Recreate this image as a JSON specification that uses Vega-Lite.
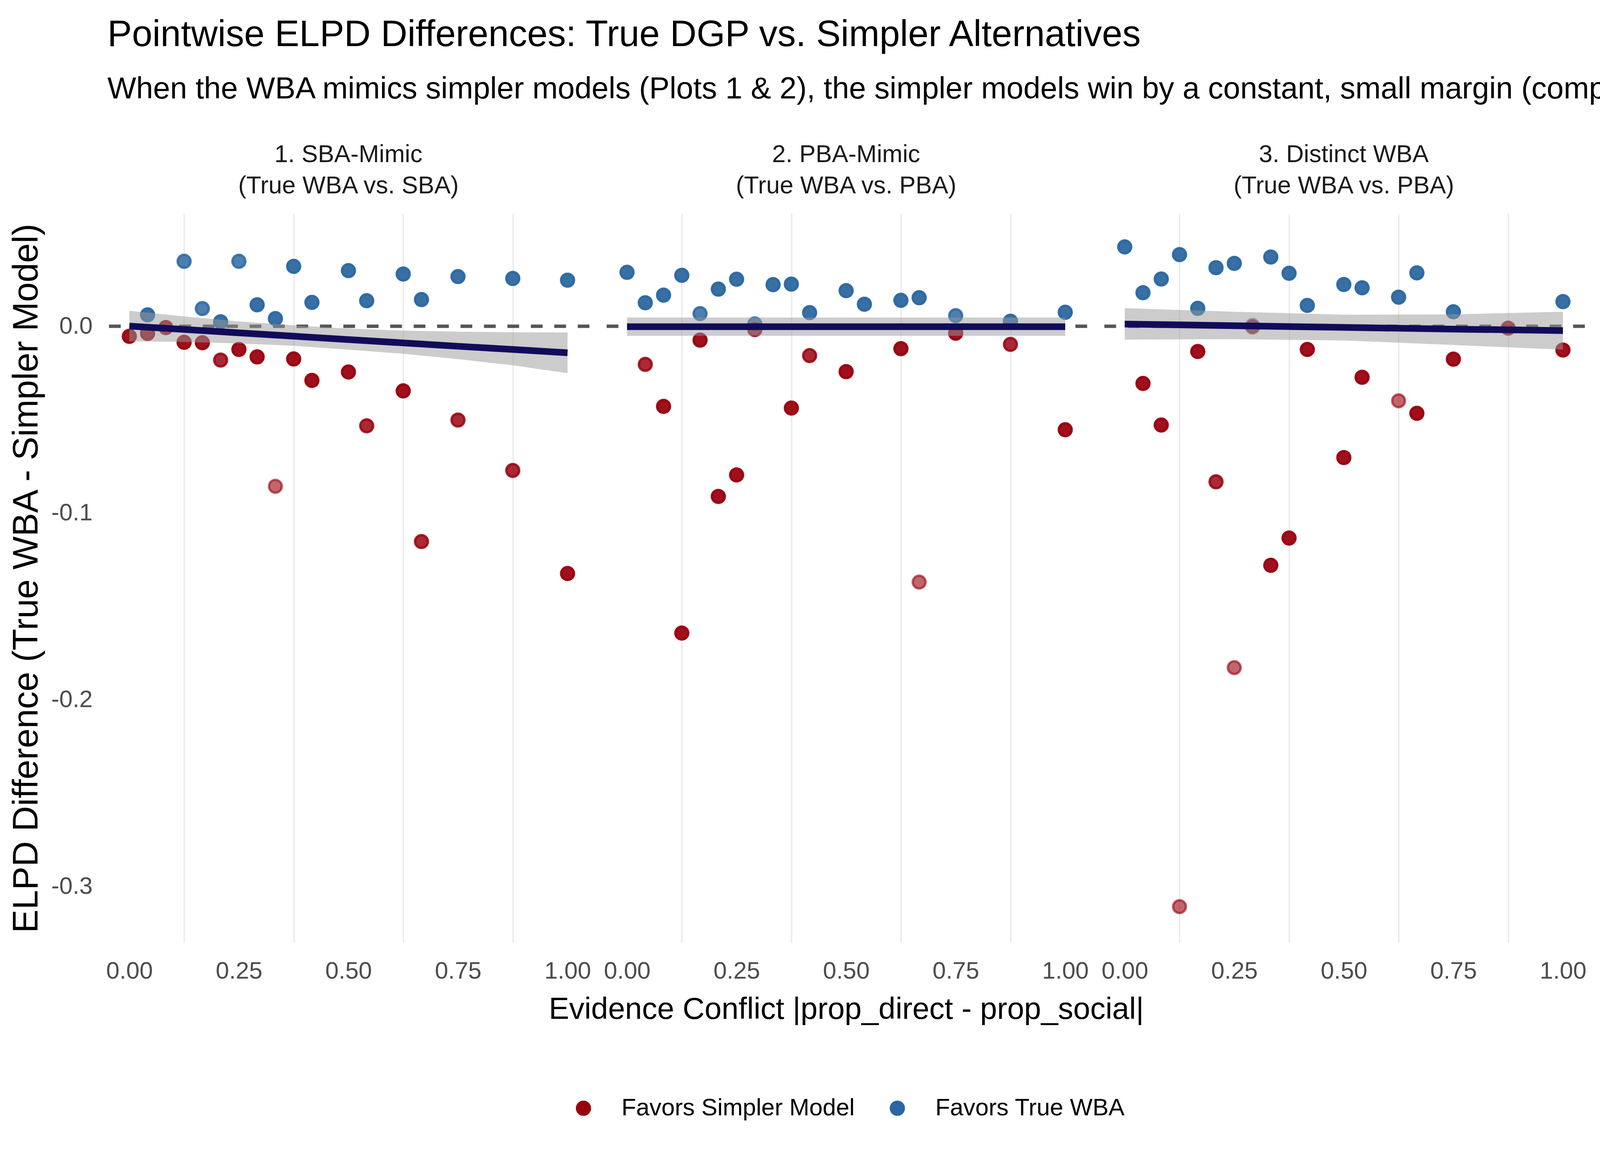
{
  "$schema": "https://vega.github.io/schema/vega-lite/v6.json",
  "padding": {"left": 23, "top": 43, "right": 0, "bottom": 0},
  "background": "white",
  "config": {
    "font": "Liberation Sans",
    "view": {"stroke": null},
    "axis": {"domain": false, "ticks": false, "tickSize": 0, "labelFont": "Liberation Sans", "labelFontSize": 61.4, "labelColor": "#4D4D4D", "titleFont": "Liberation Sans", "titleFontSize": 78, "titleColor": "#000000", "titleFontWeight": "normal", "gridColor": "#EBEBEB", "gridWidth": 7.25, "labelOverlap": false, "labelFlush": false},
    "title": {"font": "Liberation Sans", "fontWeight": "normal", "fontSize": 62.6, "color": "#1A1A1A", "anchor": "middle", "offset": 38, "lineHeight": 80, "frame": "group"}
  },
  "title": {
    "text": "Pointwise ELPD Differences: True DGP vs. Simpler Alternatives",
    "subtitle": "When the WBA mimics simpler models (Plots 1 & 2), the simpler models win by a constant, small margin (comp",
    "anchor": "start", "frame": "group", "fontSize": 94, "subtitleFontSize": 78, "color": "#000000", "subtitleColor": "#000000", "subtitleFont": "Liberation Sans", "subtitlePadding": 52, "offset": 96.2, "lineHeight": 94
  },
  "datasets": {
    "points": [
      {"panel": 1, "conflict": 0.041667, "elpd_diff": 0.0061, "favors": "Favors True WBA", "n": 3},
      {"panel": 1, "conflict": 0.125, "elpd_diff": 0.0348, "favors": "Favors True WBA", "n": 2},
      {"panel": 1, "conflict": 0.166667, "elpd_diff": 0.0095, "favors": "Favors True WBA", "n": 2},
      {"panel": 1, "conflict": 0.208333, "elpd_diff": 0.0024, "favors": "Favors True WBA", "n": 3},
      {"panel": 1, "conflict": 0.25, "elpd_diff": 0.0348, "favors": "Favors True WBA", "n": 2},
      {"panel": 1, "conflict": 0.291667, "elpd_diff": 0.0115, "favors": "Favors True WBA", "n": 3},
      {"panel": 1, "conflict": 0.333333, "elpd_diff": 0.0041, "favors": "Favors True WBA", "n": 3},
      {"panel": 1, "conflict": 0.375, "elpd_diff": 0.0321, "favors": "Favors True WBA", "n": 3},
      {"panel": 1, "conflict": 0.416667, "elpd_diff": 0.0128, "favors": "Favors True WBA", "n": 3},
      {"panel": 1, "conflict": 0.5, "elpd_diff": 0.0298, "favors": "Favors True WBA", "n": 3},
      {"panel": 1, "conflict": 0.541667, "elpd_diff": 0.0137, "favors": "Favors True WBA", "n": 3},
      {"panel": 1, "conflict": 0.625, "elpd_diff": 0.0280, "favors": "Favors True WBA", "n": 3},
      {"panel": 1, "conflict": 0.666667, "elpd_diff": 0.0143, "favors": "Favors True WBA", "n": 3},
      {"panel": 1, "conflict": 0.75, "elpd_diff": 0.0266, "favors": "Favors True WBA", "n": 3},
      {"panel": 1, "conflict": 0.875, "elpd_diff": 0.0256, "favors": "Favors True WBA", "n": 3},
      {"panel": 1, "conflict": 1, "elpd_diff": 0.0247, "favors": "Favors True WBA", "n": 3},
      {"panel": 1, "conflict": 0, "elpd_diff": -0.0054, "favors": "Favors Simpler Model", "n": 3},
      {"panel": 1, "conflict": 0.041667, "elpd_diff": -0.0038, "favors": "Favors Simpler Model", "n": 3},
      {"panel": 1, "conflict": 0.083333, "elpd_diff": -0.0007, "favors": "Favors Simpler Model", "n": 3},
      {"panel": 1, "conflict": 0.125, "elpd_diff": -0.0086, "favors": "Favors Simpler Model", "n": 3},
      {"panel": 1, "conflict": 0.166667, "elpd_diff": -0.0088, "favors": "Favors Simpler Model", "n": 3},
      {"panel": 1, "conflict": 0.208333, "elpd_diff": -0.0181, "favors": "Favors Simpler Model", "n": 2},
      {"panel": 1, "conflict": 0.25, "elpd_diff": -0.0124, "favors": "Favors Simpler Model", "n": 3},
      {"panel": 1, "conflict": 0.291667, "elpd_diff": -0.0164, "favors": "Favors Simpler Model", "n": 3},
      {"panel": 1, "conflict": 0.333333, "elpd_diff": -0.0857, "favors": "Favors Simpler Model", "n": 1},
      {"panel": 1, "conflict": 0.375, "elpd_diff": -0.0175, "favors": "Favors Simpler Model", "n": 3},
      {"panel": 1, "conflict": 0.416667, "elpd_diff": -0.0290, "favors": "Favors Simpler Model", "n": 3},
      {"panel": 1, "conflict": 0.5, "elpd_diff": -0.0245, "favors": "Favors Simpler Model", "n": 3},
      {"panel": 1, "conflict": 0.541667, "elpd_diff": -0.0533, "favors": "Favors Simpler Model", "n": 2},
      {"panel": 1, "conflict": 0.625, "elpd_diff": -0.0346, "favors": "Favors Simpler Model", "n": 3},
      {"panel": 1, "conflict": 0.666667, "elpd_diff": -0.1153, "favors": "Favors Simpler Model", "n": 2},
      {"panel": 1, "conflict": 0.75, "elpd_diff": -0.0502, "favors": "Favors Simpler Model", "n": 2},
      {"panel": 1, "conflict": 0.875, "elpd_diff": -0.0772, "favors": "Favors Simpler Model", "n": 2},
      {"panel": 1, "conflict": 1, "elpd_diff": -0.1324, "favors": "Favors Simpler Model", "n": 3},
      {"panel": 2, "conflict": 0, "elpd_diff": 0.0289, "favors": "Favors True WBA", "n": 3},
      {"panel": 2, "conflict": 0.041667, "elpd_diff": 0.0126, "favors": "Favors True WBA", "n": 3},
      {"panel": 2, "conflict": 0.083333, "elpd_diff": 0.0167, "favors": "Favors True WBA", "n": 3},
      {"panel": 2, "conflict": 0.125, "elpd_diff": 0.0273, "favors": "Favors True WBA", "n": 3},
      {"panel": 2, "conflict": 0.166667, "elpd_diff": 0.0068, "favors": "Favors True WBA", "n": 2},
      {"panel": 2, "conflict": 0.208333, "elpd_diff": 0.0199, "favors": "Favors True WBA", "n": 3},
      {"panel": 2, "conflict": 0.25, "elpd_diff": 0.0252, "favors": "Favors True WBA", "n": 3},
      {"panel": 2, "conflict": 0.291667, "elpd_diff": 0.0013, "favors": "Favors True WBA", "n": 2},
      {"panel": 2, "conflict": 0.333333, "elpd_diff": 0.0223, "favors": "Favors True WBA", "n": 3},
      {"panel": 2, "conflict": 0.375, "elpd_diff": 0.0226, "favors": "Favors True WBA", "n": 3},
      {"panel": 2, "conflict": 0.416667, "elpd_diff": 0.0073, "favors": "Favors True WBA", "n": 3},
      {"panel": 2, "conflict": 0.5, "elpd_diff": 0.0191, "favors": "Favors True WBA", "n": 3},
      {"panel": 2, "conflict": 0.541667, "elpd_diff": 0.0118, "favors": "Favors True WBA", "n": 3},
      {"panel": 2, "conflict": 0.625, "elpd_diff": 0.0139, "favors": "Favors True WBA", "n": 3},
      {"panel": 2, "conflict": 0.666667, "elpd_diff": 0.0153, "favors": "Favors True WBA", "n": 3},
      {"panel": 2, "conflict": 0.75, "elpd_diff": 0.0057, "favors": "Favors True WBA", "n": 2},
      {"panel": 2, "conflict": 0.875, "elpd_diff": 0.0027, "favors": "Favors True WBA", "n": 3},
      {"panel": 2, "conflict": 1, "elpd_diff": 0.0075, "favors": "Favors True WBA", "n": 3},
      {"panel": 2, "conflict": 0.041667, "elpd_diff": -0.0204, "favors": "Favors Simpler Model", "n": 2},
      {"panel": 2, "conflict": 0.083333, "elpd_diff": -0.0429, "favors": "Favors Simpler Model", "n": 3},
      {"panel": 2, "conflict": 0.125, "elpd_diff": -0.1643, "favors": "Favors Simpler Model", "n": 3},
      {"panel": 2, "conflict": 0.166667, "elpd_diff": -0.0074, "favors": "Favors Simpler Model", "n": 3},
      {"panel": 2, "conflict": 0.208333, "elpd_diff": -0.0911, "favors": "Favors Simpler Model", "n": 3},
      {"panel": 2, "conflict": 0.25, "elpd_diff": -0.0796, "favors": "Favors Simpler Model", "n": 3},
      {"panel": 2, "conflict": 0.291667, "elpd_diff": -0.0018, "favors": "Favors Simpler Model", "n": 2},
      {"panel": 2, "conflict": 0.375, "elpd_diff": -0.0438, "favors": "Favors Simpler Model", "n": 3},
      {"panel": 2, "conflict": 0.416667, "elpd_diff": -0.0157, "favors": "Favors Simpler Model", "n": 2},
      {"panel": 2, "conflict": 0.5, "elpd_diff": -0.0243, "favors": "Favors Simpler Model", "n": 3},
      {"panel": 2, "conflict": 0.625, "elpd_diff": -0.0120, "favors": "Favors Simpler Model", "n": 3},
      {"panel": 2, "conflict": 0.666667, "elpd_diff": -0.1370, "favors": "Favors Simpler Model", "n": 1},
      {"panel": 2, "conflict": 0.75, "elpd_diff": -0.0037, "favors": "Favors Simpler Model", "n": 3},
      {"panel": 2, "conflict": 0.875, "elpd_diff": -0.0097, "favors": "Favors Simpler Model", "n": 2},
      {"panel": 2, "conflict": 1, "elpd_diff": -0.0554, "favors": "Favors Simpler Model", "n": 3},
      {"panel": 3, "conflict": 0, "elpd_diff": 0.0425, "favors": "Favors True WBA", "n": 3},
      {"panel": 3, "conflict": 0.041667, "elpd_diff": 0.0180, "favors": "Favors True WBA", "n": 3},
      {"panel": 3, "conflict": 0.083333, "elpd_diff": 0.0253, "favors": "Favors True WBA", "n": 3},
      {"panel": 3, "conflict": 0.125, "elpd_diff": 0.0384, "favors": "Favors True WBA", "n": 3},
      {"panel": 3, "conflict": 0.166667, "elpd_diff": 0.0096, "favors": "Favors True WBA", "n": 3},
      {"panel": 3, "conflict": 0.208333, "elpd_diff": 0.0314, "favors": "Favors True WBA", "n": 3},
      {"panel": 3, "conflict": 0.25, "elpd_diff": 0.0337, "favors": "Favors True WBA", "n": 3},
      {"panel": 3, "conflict": 0.291667, "elpd_diff": 0.0004, "favors": "Favors True WBA", "n": 1},
      {"panel": 3, "conflict": 0.333333, "elpd_diff": 0.0371, "favors": "Favors True WBA", "n": 3},
      {"panel": 3, "conflict": 0.375, "elpd_diff": 0.0284, "favors": "Favors True WBA", "n": 3},
      {"panel": 3, "conflict": 0.416667, "elpd_diff": 0.0112, "favors": "Favors True WBA", "n": 3},
      {"panel": 3, "conflict": 0.5, "elpd_diff": 0.0224, "favors": "Favors True WBA", "n": 3},
      {"panel": 3, "conflict": 0.541667, "elpd_diff": 0.0206, "favors": "Favors True WBA", "n": 3},
      {"panel": 3, "conflict": 0.625, "elpd_diff": 0.0156, "favors": "Favors True WBA", "n": 3},
      {"panel": 3, "conflict": 0.666667, "elpd_diff": 0.0286, "favors": "Favors True WBA", "n": 3},
      {"panel": 3, "conflict": 0.75, "elpd_diff": 0.0078, "favors": "Favors True WBA", "n": 3},
      {"panel": 3, "conflict": 1, "elpd_diff": 0.0132, "favors": "Favors True WBA", "n": 3},
      {"panel": 3, "conflict": 0.041667, "elpd_diff": -0.0306, "favors": "Favors Simpler Model", "n": 3},
      {"panel": 3, "conflict": 0.083333, "elpd_diff": -0.0529, "favors": "Favors Simpler Model", "n": 3},
      {"panel": 3, "conflict": 0.125, "elpd_diff": -0.3108, "favors": "Favors Simpler Model", "n": 1},
      {"panel": 3, "conflict": 0.166667, "elpd_diff": -0.0135, "favors": "Favors Simpler Model", "n": 3},
      {"panel": 3, "conflict": 0.208333, "elpd_diff": -0.0833, "favors": "Favors Simpler Model", "n": 2},
      {"panel": 3, "conflict": 0.25, "elpd_diff": -0.1828, "favors": "Favors Simpler Model", "n": 1},
      {"panel": 3, "conflict": 0.291667, "elpd_diff": -0.0004, "favors": "Favors Simpler Model", "n": 1},
      {"panel": 3, "conflict": 0.333333, "elpd_diff": -0.1280, "favors": "Favors Simpler Model", "n": 3},
      {"panel": 3, "conflict": 0.375, "elpd_diff": -0.1134, "favors": "Favors Simpler Model", "n": 3},
      {"panel": 3, "conflict": 0.416667, "elpd_diff": -0.0124, "favors": "Favors Simpler Model", "n": 3},
      {"panel": 3, "conflict": 0.5, "elpd_diff": -0.0703, "favors": "Favors Simpler Model", "n": 3},
      {"panel": 3, "conflict": 0.541667, "elpd_diff": -0.0273, "favors": "Favors Simpler Model", "n": 3},
      {"panel": 3, "conflict": 0.625, "elpd_diff": -0.0399, "favors": "Favors Simpler Model", "n": 1},
      {"panel": 3, "conflict": 0.666667, "elpd_diff": -0.0466, "favors": "Favors Simpler Model", "n": 3},
      {"panel": 3, "conflict": 0.75, "elpd_diff": -0.0176, "favors": "Favors Simpler Model", "n": 3},
      {"panel": 3, "conflict": 0.875, "elpd_diff": -0.0010, "favors": "Favors Simpler Model", "n": 2},
      {"panel": 3, "conflict": 1, "elpd_diff": -0.0127, "favors": "Favors Simpler Model", "n": 3}
    ],
    "smooth": [
      {"panel": 1, "conflict": 0, "fit": 0.0001, "lo": -0.0080, "hi": 0.0083},
      {"panel": 1, "conflict": 0.125, "fit": -0.0017, "lo": -0.0084, "hi": 0.0053},
      {"panel": 1, "conflict": 0.25, "fit": -0.0035, "lo": -0.0092, "hi": 0.0026},
      {"panel": 1, "conflict": 0.375, "fit": -0.0053, "lo": -0.0104, "hi": 0.0005},
      {"panel": 1, "conflict": 0.5, "fit": -0.0071, "lo": -0.0125, "hi": -0.0012},
      {"panel": 1, "conflict": 0.625, "fit": -0.0089, "lo": -0.0147, "hi": -0.0023},
      {"panel": 1, "conflict": 0.75, "fit": -0.0107, "lo": -0.0176, "hi": -0.0029},
      {"panel": 1, "conflict": 0.875, "fit": -0.0124, "lo": -0.0209, "hi": -0.0032},
      {"panel": 1, "conflict": 1, "fit": -0.0142, "lo": -0.0251, "hi": -0.0033},
      {"panel": 2, "conflict": 0, "fit": -0.0002, "lo": -0.0051, "hi": 0.0047},
      {"panel": 2, "conflict": 0.5, "fit": -0.0002, "lo": -0.0051, "hi": 0.0047},
      {"panel": 2, "conflict": 1, "fit": -0.0002, "lo": -0.0051, "hi": 0.0047},
      {"panel": 3, "conflict": 0, "fit": 0.0012, "lo": -0.0071, "hi": 0.0097},
      {"panel": 3, "conflict": 0.25, "fit": 0.0003, "lo": -0.0069, "hi": 0.0078},
      {"panel": 3, "conflict": 0.5, "fit": -0.0006, "lo": -0.0076, "hi": 0.0062},
      {"panel": 3, "conflict": 0.75, "fit": -0.0015, "lo": -0.0100, "hi": 0.0064},
      {"panel": 3, "conflict": 1, "fit": -0.0023, "lo": -0.0125, "hi": 0.0078}
    ]
  },
  "spacing": 40.1,
  "bounds": "flush",
  "hconcat": [
    {
      "width": 1234, "height": 1866,
      "title": {"text": ["1. SBA-Mimic", "(True WBA vs. SBA)"]},
      "resolve": {"axis": {"x": "independent", "y": "independent"}},
      "layer": [
        {
          "data": {"values": [{"yint": 0}]},
          "mark": {"type": "rule", "color": "#555555", "strokeWidth": 8.7, "strokeDash": [30, 30]},
          "encoding": {"y": {"field": "yint", "type": "quantitative", "scale": {"domain": [-0.3301, 0.0603], "nice": false, "zero": false}, "axis": null}}
        },
        {
          "data": {"name": "points"},
          "transform": [{"filter": "datum.panel == 1"}],
          "mark": {"type": "point", "filled": true, "shape": "circle", "size": 1090, "strokeWidth": 6, "opacity": 1},
          "encoding": {
            "x": {"field": "conflict", "type": "quantitative", "scale": {"domain": [-0.05, 1.05], "nice": false, "zero": false}, "axis": {"values": [0.125, 0.375, 0.625, 0.875], "labels": false, "title": null, "gridWidth": 3.67, "orient": "bottom"}},
            "y": {"field": "elpd_diff", "type": "quantitative", "scale": {"domain": [-0.3301, 0.0603], "nice": false, "zero": false}, "axis": {"values": [-0.25, -0.15, -0.05, 0.05], "labels": false, "title": null, "gridWidth": 4.3, "orient": "left"}},
            "color": {"field": "favors", "type": "nominal", "scale": {"domain": ["Favors Simpler Model", "Favors True WBA"], "range": ["#99000D", "#2B66A0"]}, "legend": {"orient": "none", "legendX": 1188, "legendY": 2258.7, "direction": "horizontal", "title": null, "labelFontSize": 61.4, "labelColor": "#000000", "labelFont": "Liberation Sans", "symbolSize": 1090, "symbolStrokeWidth": 6, "symbolType": "circle", "labelOffset": 66.5, "columnPadding": 78.5, "padding": 0, "labelLimit": 3000, "encoding": {"symbols": {"update": {"fillOpacity": {"value": 0.6}, "strokeOpacity": {"value": 0.6}, "opacity": {"value": 1}}}}}},
            "stroke": {"field": "favors", "type": "nominal", "scale": {"domain": ["Favors Simpler Model", "Favors True WBA"], "range": ["#99000D", "#2B66A0"]}, "legend": {"orient": "none", "legendX": 1188, "legendY": 2258.7, "direction": "horizontal", "title": null, "labelFontSize": 61.4, "labelColor": "#000000", "labelFont": "Liberation Sans", "symbolSize": 1090, "symbolStrokeWidth": 6, "symbolType": "circle", "labelOffset": 66.5, "columnPadding": 78.5, "padding": 0, "labelLimit": 3000, "encoding": {"symbols": {"update": {"fillOpacity": {"value": 0.6}, "strokeOpacity": {"value": 0.6}, "opacity": {"value": 1}}}}}},
            "fillOpacity": {"field": "n", "type": "quantitative", "scale": {"type": "threshold", "domain": [1.5, 2.5], "range": [0.6, 0.84, 0.936]}, "legend": null},
            "strokeOpacity": {"field": "n", "type": "quantitative", "scale": {"type": "threshold", "domain": [1.5, 2.5], "range": [0.6, 0.84, 0.936]}, "legend": null}
          }
        },
        {
          "data": {"name": "smooth"},
          "transform": [{"filter": "datum.panel == 1"}],
          "mark": {"type": "area", "fill": "#999999", "fillOpacity": 0.5},
          "encoding": {
            "x": {"field": "conflict", "type": "quantitative", "scale": {"domain": [-0.05, 1.05], "nice": false, "zero": false}, "axis": {"values": [0, 0.25, 0.5, 0.75, 1], "format": ".2f", "title": null, "labelPadding": 42, "orient": "bottom"}},
            "y": {"field": "lo", "type": "quantitative", "scale": {"domain": [-0.3301, 0.0603], "nice": false, "zero": false}, "axis": {"values": [-0.3, -0.2, -0.1, 0], "labelExpr": "datum.value == 0 ? '0.0' : '-' + format(-datum.value, '.1f')", "title": "ELPD Difference (True WBA - Simpler Model)", "titleFontSize": 90, "labelPadding": 38.4, "titlePadding": 16.4, "gridWidth": 8.5, "orient": "left"}},
            "y2": {"field": "hi"}
          }
        },
        {
          "data": {"name": "smooth"},
          "transform": [{"filter": "datum.panel == 1"}],
          "mark": {"type": "line", "color": "#110C5A", "strokeWidth": 17, "strokeCap": "butt"},
          "encoding": {
            "x": {"field": "conflict", "type": "quantitative", "scale": {"domain": [-0.05, 1.05], "nice": false, "zero": false}, "axis": null},
            "y": {"field": "fit", "type": "quantitative", "scale": {"domain": [-0.3301, 0.0603], "nice": false, "zero": false}, "axis": null}
          }
        }
      ]
    },
    {
      "width": 1234, "height": 1866,
      "title": {"text": ["2. PBA-Mimic", "(True WBA vs. PBA)"]},
      "resolve": {"axis": {"x": "independent", "y": "independent"}},
      "layer": [
        {
          "data": {"values": [{"yint": 0}]},
          "mark": {"type": "rule", "color": "#555555", "strokeWidth": 8.7, "strokeDash": [30, 30]},
          "encoding": {"y": {"field": "yint", "type": "quantitative", "scale": {"domain": [-0.3301, 0.0603], "nice": false, "zero": false}, "axis": null}}
        },
        {
          "data": {"name": "points"},
          "transform": [{"filter": "datum.panel == 2"}],
          "mark": {"type": "point", "filled": true, "shape": "circle", "size": 1090, "strokeWidth": 6, "opacity": 1},
          "encoding": {
            "x": {"field": "conflict", "type": "quantitative", "scale": {"domain": [-0.05, 1.05], "nice": false, "zero": false}, "axis": {"values": [0.125, 0.375, 0.625, 0.875], "labels": false, "title": null, "gridWidth": 3.67, "orient": "bottom"}},
            "y": {"field": "elpd_diff", "type": "quantitative", "scale": {"domain": [-0.3301, 0.0603], "nice": false, "zero": false}, "axis": {"values": [-0.25, -0.15, -0.05, 0.05], "labels": false, "title": null, "gridWidth": 4.3, "orient": "left"}},
            "color": {"field": "favors", "type": "nominal", "scale": {"domain": ["Favors Simpler Model", "Favors True WBA"], "range": ["#99000D", "#2B66A0"]}, "legend": {"orient": "none", "legendX": 1188, "legendY": 2258.7, "direction": "horizontal", "title": null, "labelFontSize": 61.4, "labelColor": "#000000", "labelFont": "Liberation Sans", "symbolSize": 1090, "symbolStrokeWidth": 6, "symbolType": "circle", "labelOffset": 66.5, "columnPadding": 78.5, "padding": 0, "labelLimit": 3000, "encoding": {"symbols": {"update": {"fillOpacity": {"value": 0.6}, "strokeOpacity": {"value": 0.6}, "opacity": {"value": 1}}}}}},
            "stroke": {"field": "favors", "type": "nominal", "scale": {"domain": ["Favors Simpler Model", "Favors True WBA"], "range": ["#99000D", "#2B66A0"]}, "legend": {"orient": "none", "legendX": 1188, "legendY": 2258.7, "direction": "horizontal", "title": null, "labelFontSize": 61.4, "labelColor": "#000000", "labelFont": "Liberation Sans", "symbolSize": 1090, "symbolStrokeWidth": 6, "symbolType": "circle", "labelOffset": 66.5, "columnPadding": 78.5, "padding": 0, "labelLimit": 3000, "encoding": {"symbols": {"update": {"fillOpacity": {"value": 0.6}, "strokeOpacity": {"value": 0.6}, "opacity": {"value": 1}}}}}},
            "fillOpacity": {"field": "n", "type": "quantitative", "scale": {"type": "threshold", "domain": [1.5, 2.5], "range": [0.6, 0.84, 0.936]}, "legend": null},
            "strokeOpacity": {"field": "n", "type": "quantitative", "scale": {"type": "threshold", "domain": [1.5, 2.5], "range": [0.6, 0.84, 0.936]}, "legend": null}
          }
        },
        {
          "data": {"name": "smooth"},
          "transform": [{"filter": "datum.panel == 2"}],
          "mark": {"type": "area", "fill": "#999999", "fillOpacity": 0.5},
          "encoding": {
            "x": {"field": "conflict", "type": "quantitative", "scale": {"domain": [-0.05, 1.05], "nice": false, "zero": false}, "axis": {"values": [0, 0.25, 0.5, 0.75, 1], "format": ".2f", "title": "Evidence Conflict |prop_direct - prop_social|", "titleFontSize": 78, "labelPadding": 42, "titlePadding": 28.7, "orient": "bottom"}},
            "y": {"field": "lo", "type": "quantitative", "scale": {"domain": [-0.3301, 0.0603], "nice": false, "zero": false}, "axis": {"values": [-0.3, -0.2, -0.1, 0], "labels": false, "title": null, "gridWidth": 8.5, "orient": "left"}},
            "y2": {"field": "hi"}
          }
        },
        {
          "data": {"name": "smooth"},
          "transform": [{"filter": "datum.panel == 2"}],
          "mark": {"type": "line", "color": "#110C5A", "strokeWidth": 17, "strokeCap": "butt"},
          "encoding": {
            "x": {"field": "conflict", "type": "quantitative", "scale": {"domain": [-0.05, 1.05], "nice": false, "zero": false}, "axis": null},
            "y": {"field": "fit", "type": "quantitative", "scale": {"domain": [-0.3301, 0.0603], "nice": false, "zero": false}, "axis": null}
          }
        }
      ]
    },
    {
      "width": 1234, "height": 1866,
      "title": {"text": ["3. Distinct WBA", "(True WBA vs. PBA)"]},
      "resolve": {"axis": {"x": "independent", "y": "independent"}},
      "layer": [
        {
          "data": {"values": [{"yint": 0}]},
          "mark": {"type": "rule", "color": "#555555", "strokeWidth": 8.7, "strokeDash": [30, 30]},
          "encoding": {"y": {"field": "yint", "type": "quantitative", "scale": {"domain": [-0.3301, 0.0603], "nice": false, "zero": false}, "axis": null}}
        },
        {
          "data": {"name": "points"},
          "transform": [{"filter": "datum.panel == 3"}],
          "mark": {"type": "point", "filled": true, "shape": "circle", "size": 1090, "strokeWidth": 6, "opacity": 1},
          "encoding": {
            "x": {"field": "conflict", "type": "quantitative", "scale": {"domain": [-0.05, 1.05], "nice": false, "zero": false}, "axis": {"values": [0.125, 0.375, 0.625, 0.875], "labels": false, "title": null, "gridWidth": 3.67, "orient": "bottom"}},
            "y": {"field": "elpd_diff", "type": "quantitative", "scale": {"domain": [-0.3301, 0.0603], "nice": false, "zero": false}, "axis": {"values": [-0.25, -0.15, -0.05, 0.05], "labels": false, "title": null, "gridWidth": 4.3, "orient": "left"}},
            "color": {"field": "favors", "type": "nominal", "scale": {"domain": ["Favors Simpler Model", "Favors True WBA"], "range": ["#99000D", "#2B66A0"]}, "legend": {"orient": "none", "legendX": 1188, "legendY": 2258.7, "direction": "horizontal", "title": null, "labelFontSize": 61.4, "labelColor": "#000000", "labelFont": "Liberation Sans", "symbolSize": 1090, "symbolStrokeWidth": 6, "symbolType": "circle", "labelOffset": 66.5, "columnPadding": 78.5, "padding": 0, "labelLimit": 3000, "encoding": {"symbols": {"update": {"fillOpacity": {"value": 0.6}, "strokeOpacity": {"value": 0.6}, "opacity": {"value": 1}}}}}},
            "stroke": {"field": "favors", "type": "nominal", "scale": {"domain": ["Favors Simpler Model", "Favors True WBA"], "range": ["#99000D", "#2B66A0"]}, "legend": {"orient": "none", "legendX": 1188, "legendY": 2258.7, "direction": "horizontal", "title": null, "labelFontSize": 61.4, "labelColor": "#000000", "labelFont": "Liberation Sans", "symbolSize": 1090, "symbolStrokeWidth": 6, "symbolType": "circle", "labelOffset": 66.5, "columnPadding": 78.5, "padding": 0, "labelLimit": 3000, "encoding": {"symbols": {"update": {"fillOpacity": {"value": 0.6}, "strokeOpacity": {"value": 0.6}, "opacity": {"value": 1}}}}}},
            "fillOpacity": {"field": "n", "type": "quantitative", "scale": {"type": "threshold", "domain": [1.5, 2.5], "range": [0.6, 0.84, 0.936]}, "legend": null},
            "strokeOpacity": {"field": "n", "type": "quantitative", "scale": {"type": "threshold", "domain": [1.5, 2.5], "range": [0.6, 0.84, 0.936]}, "legend": null}
          }
        },
        {
          "data": {"name": "smooth"},
          "transform": [{"filter": "datum.panel == 3"}],
          "mark": {"type": "area", "fill": "#999999", "fillOpacity": 0.5},
          "encoding": {
            "x": {"field": "conflict", "type": "quantitative", "scale": {"domain": [-0.05, 1.05], "nice": false, "zero": false}, "axis": {"values": [0, 0.25, 0.5, 0.75, 1], "format": ".2f", "title": null, "labelPadding": 42, "orient": "bottom"}},
            "y": {"field": "lo", "type": "quantitative", "scale": {"domain": [-0.3301, 0.0603], "nice": false, "zero": false}, "axis": {"values": [-0.3, -0.2, -0.1, 0], "labels": false, "title": null, "gridWidth": 8.5, "orient": "left"}},
            "y2": {"field": "hi"}
          }
        },
        {
          "data": {"name": "smooth"},
          "transform": [{"filter": "datum.panel == 3"}],
          "mark": {"type": "line", "color": "#110C5A", "strokeWidth": 17, "strokeCap": "butt"},
          "encoding": {
            "x": {"field": "conflict", "type": "quantitative", "scale": {"domain": [-0.05, 1.05], "nice": false, "zero": false}, "axis": null},
            "y": {"field": "fit", "type": "quantitative", "scale": {"domain": [-0.3301, 0.0603], "nice": false, "zero": false}, "axis": null}
          }
        }
      ]
    }
  ]
}
